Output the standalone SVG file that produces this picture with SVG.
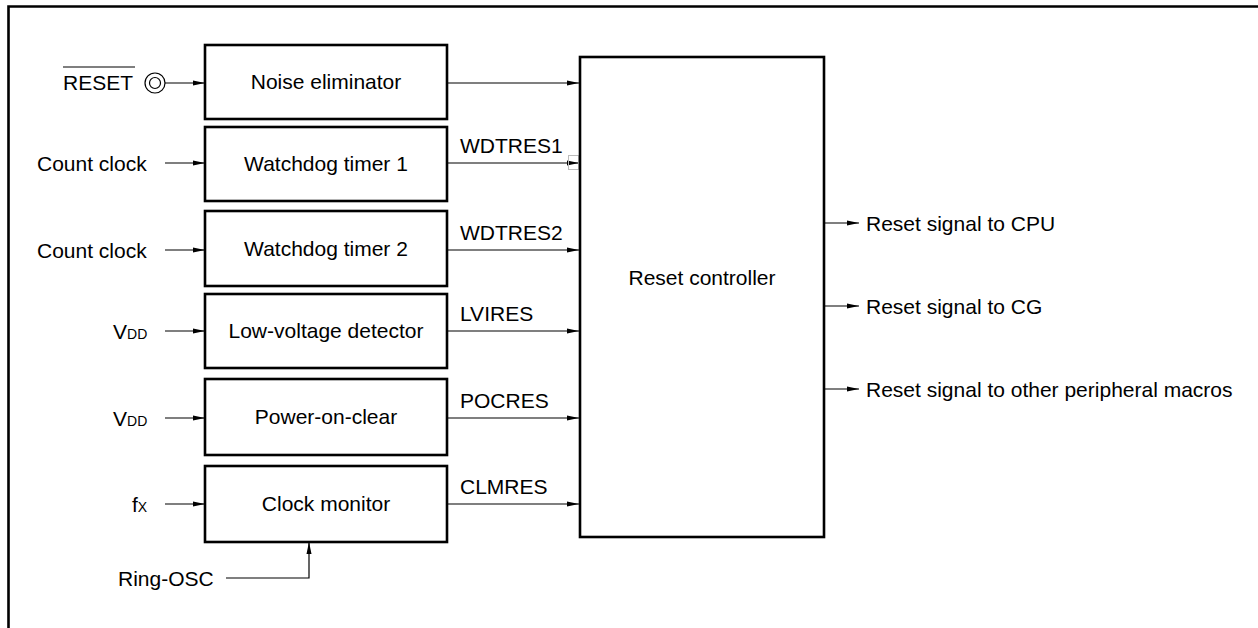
<svg xmlns="http://www.w3.org/2000/svg" width="1258" height="628" viewBox="0 0 1258 628">
<style>
text{font-family:"Liberation Sans",Arial,sans-serif;font-size:21px;fill:#000}
.box{fill:#fff;stroke:#000;stroke-width:2.6}
.ln{fill:none;stroke:#000;stroke-width:1.2}
.mid{text-anchor:middle}
.sub{font-size:14px}
</style>
<defs>
<marker id="ah" markerWidth="12" markerHeight="6" refX="12" refY="3" orient="auto" markerUnits="userSpaceOnUse">
<path d="M0,0.5 L12,3 L0,5.5 Z" fill="#000"/>
</marker>
</defs>
<rect width="1258" height="628" fill="#fff"/>
<polyline points="1258,6.5 8.5,6.5 8.5,628" fill="none" stroke="#000" stroke-width="2.6"/>

<g id="connectors">
<line class="ln" x1="165" y1="83" x2="205" y2="83" marker-end="url(#ah)"/>
<line class="ln" x1="165" y1="163" x2="205" y2="163" marker-end="url(#ah)"/>
<line class="ln" x1="165" y1="250" x2="205" y2="250" marker-end="url(#ah)"/>
<line class="ln" x1="165" y1="331" x2="205" y2="331" marker-end="url(#ah)"/>
<line class="ln" x1="165" y1="418" x2="205" y2="418" marker-end="url(#ah)"/>
<line class="ln" x1="165" y1="504" x2="205" y2="504" marker-end="url(#ah)"/>
<polyline class="ln" points="226,578 309,578 309,542" marker-end="url(#ah)"/>
<line class="ln" x1="447" y1="83" x2="579" y2="83" marker-end="url(#ah)"/>
<line class="ln" x1="447" y1="163" x2="579" y2="163" marker-end="url(#ah)"/>
<line class="ln" x1="447" y1="250" x2="579" y2="250" marker-end="url(#ah)"/>
<line class="ln" x1="447" y1="331" x2="579" y2="331" marker-end="url(#ah)"/>
<line class="ln" x1="447" y1="418" x2="579" y2="418" marker-end="url(#ah)"/>
<line class="ln" x1="447" y1="504" x2="579" y2="504" marker-end="url(#ah)"/>
<line class="ln" x1="824" y1="223" x2="859" y2="223" marker-end="url(#ah)"/>
<line class="ln" x1="824" y1="306" x2="859" y2="306" marker-end="url(#ah)"/>
<line class="ln" x1="824" y1="389" x2="859" y2="389" marker-end="url(#ah)"/>
<rect x="568.5" y="155.5" width="10" height="14" fill="none" stroke="#bbb" stroke-width="1"/>
<text x="460" y="153">WDTRES1</text>
<text x="460" y="240">WDTRES2</text>
<text x="460" y="321">LVIRES</text>
<text x="460" y="408">POCRES</text>
<text x="460" y="494">CLMRES</text>
</g>

<g id="inputs">
<text x="63" y="90">RESET</text>
<line x1="63" y1="67" x2="135" y2="67" stroke="#000" stroke-width="1.2"/>
<circle cx="155" cy="83" r="10" fill="#fff" stroke="#000" stroke-width="1.2"/>
<circle cx="155" cy="83" r="5.5" fill="#fff" stroke="#000" stroke-width="1.2"/>
<text x="37" y="171">Count clock</text>
<text x="37" y="258">Count clock</text>
<text x="113" y="339">V<tspan class="sub">DD</tspan></text>
<text x="113" y="426">V<tspan class="sub">DD</tspan></text>
<text x="132" y="512">f<tspan class="sub">X</tspan></text>
<text x="118" y="586">Ring-OSC</text>
</g>

<g id="noise"><rect class="box" x="205" y="45" width="242" height="74"/><text class="mid" x="326" y="89">Noise eliminator</text></g>
<g id="wdt1"><rect class="box" x="205" y="127" width="242" height="74"/><text class="mid" x="326" y="171">Watchdog timer 1</text></g>
<g id="wdt2"><rect class="box" x="205" y="211" width="242" height="75"/><text class="mid" x="326" y="256">Watchdog timer 2</text></g>
<g id="lvd"><rect class="box" x="205" y="294" width="242" height="74"/><text class="mid" x="326" y="338">Low-voltage detector</text></g>
<g id="poc"><rect class="box" x="205" y="379" width="242" height="76"/><text class="mid" x="326" y="424">Power-on-clear</text></g>
<g id="clkmon"><rect class="box" x="205" y="466" width="242" height="76"/><text class="mid" x="326" y="511">Clock monitor</text></g>
<g id="resetctl"><rect class="box" x="580" y="57" width="244" height="480" stroke-width="3"/><text class="mid" x="702" y="285">Reset controller</text></g>

<g id="outputs">
<text x="866" y="231">Reset signal to CPU</text>
<text x="866" y="314">Reset signal to CG</text>
<text x="866" y="397">Reset signal to other peripheral macros</text>
</g>
</svg>
